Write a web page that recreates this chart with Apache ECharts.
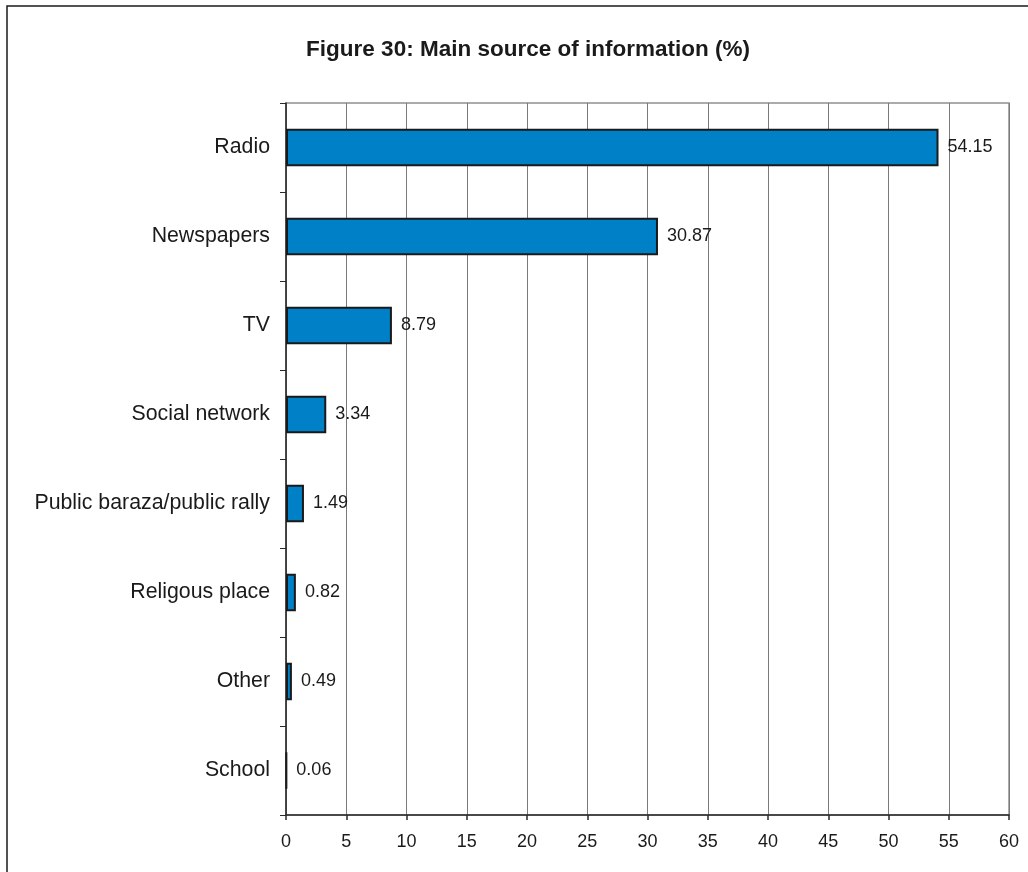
<!DOCTYPE html>
<html>
<head>
<meta charset="utf-8">
<script src="https://cdn.jsdelivr.net/npm/echarts@6/dist/echarts.min.js"></script>
<style>
  html, body { margin: 0; padding: 0; background: #ffffff; }
  #chart { width: 1028px; height: 872px; }
</style>
</head>
<body>
<div id="chart"></div>
<script>
// Main source of information, share of respondents (%)
const categories = ['Radio', 'Newspapers', 'TV', 'Social network', 'Public baraza/public rally', 'Religous place', 'Other', 'School'];
const shares = [54.15, 30.87, 8.79, 3.34, 1.49, 0.82, 0.49, 0.06];
const xTicks = { min: 0, max: 60, interval: 5 };

const FONT = 'Liberation Sans, Arial, sans-serif';
const chart = echarts.init(document.getElementById('chart'), null, { renderer: 'canvas' });

chart.setOption({
  backgroundColor: '#ffffff',
  animation: false,
  title: {
    text: 'Figure 30: Main source of information (%)',
    left: 523,
    textAlign: 'center',
    top: 33,
    textStyle: { fontFamily: FONT, fontSize: 22.5, fontWeight: 'bold', color: '#1a1a1a' }
  },
  graphic: [{
    type: 'rect',
    shape: { x: 7, y: 6, width: 1040, height: 900 },
    style: { fill: 'none', stroke: '#1a1a1a', lineWidth: 1.5 },
    silent: true
  }],
  grid: {
    left: 286, right: 19, top: 103, bottom: 57,
    show: true, borderColor: '#909090', borderWidth: 1.5, backgroundColor: 'transparent'
  },
  xAxis: {
    type: 'value',
    min: xTicks.min, max: xTicks.max, interval: xTicks.interval,
    axisLine: { show: true, lineStyle: { color: '#2a2a2a', width: 1.5 } },
    axisTick: { show: true, length: 5, lineStyle: { color: '#2a2a2a', width: 1.5 } },
    axisLabel: { margin: 18, fontFamily: FONT, fontSize: 18, color: '#1a1a1a' },
    splitLine: { show: true, lineStyle: { color: '#7a7a7a', width: 1 } }
  },
  yAxis: {
    type: 'category',
    data: categories,
    inverse: true,
    axisLine: { show: true, lineStyle: { color: '#2a2a2a', width: 1.5 } },
    axisTick: { show: true, length: 6, lineStyle: { color: '#2a2a2a', width: 1 } },
    axisLabel: { margin: 16, fontFamily: FONT, fontSize: 21.3, color: '#1a1a1a' },
    splitLine: { show: false }
  },
  series: [{
    type: 'bar',
    data: shares,
    barCategoryGap: '58%',
    itemStyle: { color: '#0080c6', borderColor: '#1a1a1a', borderWidth: 2 },
    label: {
      show: true, position: 'right', distance: 9,
      fontFamily: FONT, fontSize: 18, color: '#1a1a1a',
      formatter: p => p.value.toFixed(2)
    }
  }]
});
</script>
</body>
</html>
